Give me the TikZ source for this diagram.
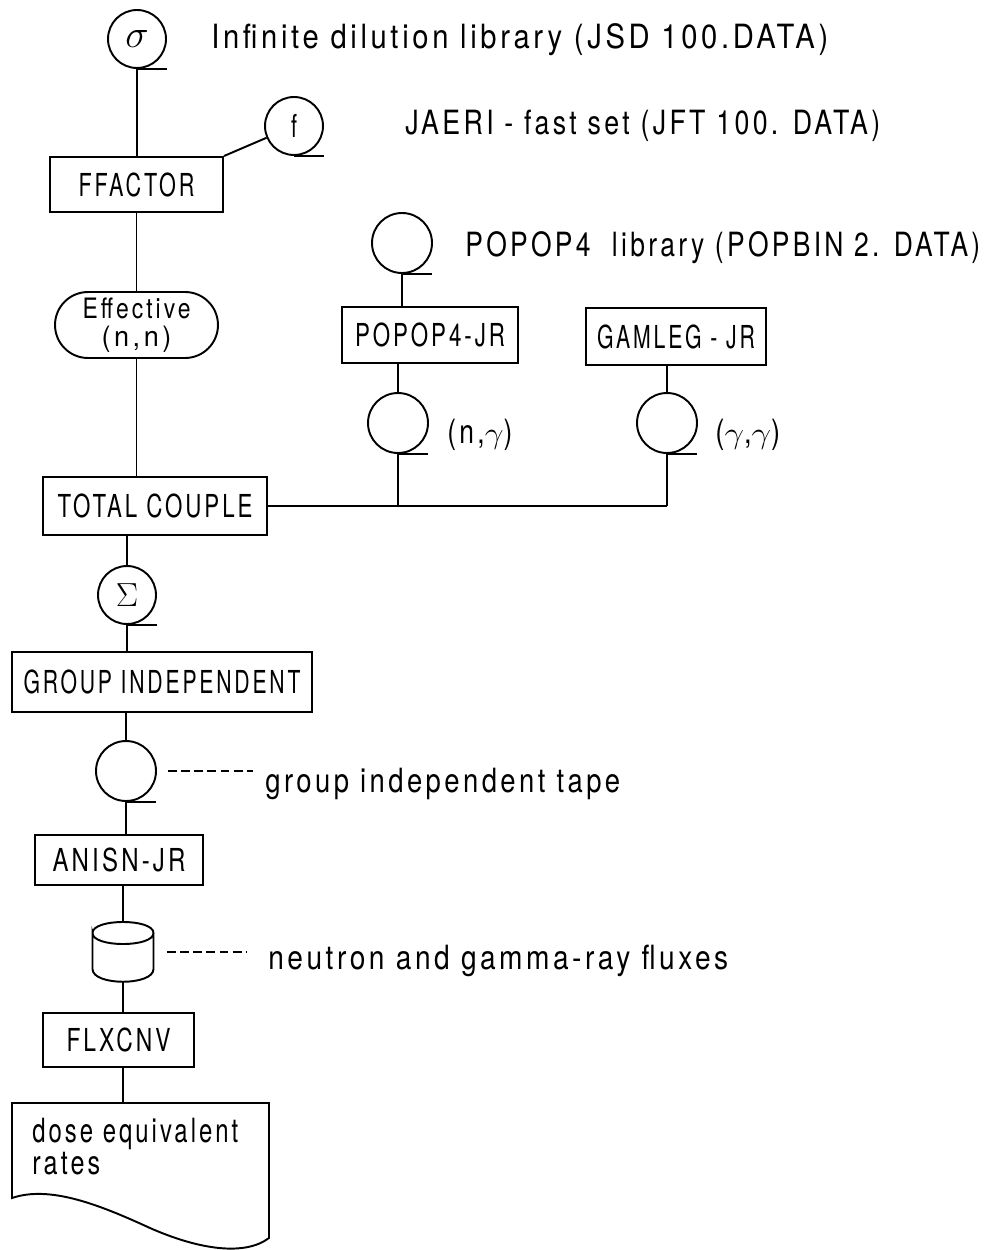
\documentclass[tikz,border=0pt]{standalone}
\usepackage{fontspec}
\setmainfont{TeX Gyre Heros}[FakeStretch=0.68, LetterSpace=9]
\newfontfamily\lblfont{TeX Gyre Heros}[FakeStretch=0.72, LetterSpace=9]
\newcommand{\fitw}[2]{\resizebox{#1}{\height}{#2}}
\usetikzlibrary{calc}
\begin{document}
\begin{tikzpicture}[x=0.02cm,y=-0.02cm,
  every node/.style={font=\fontsize{18}{20}\selectfont},
  box/.style={draw, line width=1.1pt, inner sep=0pt},
  disk/.style={draw, circle, line width=1.1pt, minimum size=1.16cm, inner sep=0pt},
  wire/.style={line width=1.1pt},
  dashwire/.style={line width=1.1pt, dash pattern=on 5pt off 2.5pt},
  lbl/.style={anchor=base west, inner sep=0pt, font=\lblfont\fontsize{19}{21}\selectfont}]
\useasboundingbox (0,0) rectangle (989,1250);

% top inputs
\node[disk] (sig) at (137,39) {\scalebox{1.3}{$\sigma$}};
\node[lbl] (siglab) at (211,49) {\fitw{12.34cm}{Infinite dilution library (JSD 100.DATA)}};
\node[disk] (fc) at (294,126) {f};
\node[lbl] (flab) at (405,134) {\fitw{9.5cm}{JAERI - fast set (JFT 100. DATA)}};

\node[box, minimum width=3.46cm, minimum height=1.1cm] (ff) at (136.5,184.5) {\fitw{2.32cm}{FFACTOR}};
\node[draw, line width=1.1pt, rounded corners=0.66cm, minimum width=3.26cm, minimum height=1.32cm,
      align=center, inner sep=0pt, font=\fontsize{16}{16}\selectfont] (eff) at (136.5,325)
      {\fitw{2.16cm}{Effective}\\\fitw{1.4cm}{(n,n)}};

\node[disk, minimum size=1.2cm] (pop) at (402,243) {};
\node[lbl] (poplab) at (465,256) {\fitw{10.3cm}{POPOP4\ \ library (POPBIN 2. DATA)}};
\node[box, minimum width=3.52cm, minimum height=1.12cm] (pj) at (430,335) {\fitw{3.0cm}{POPOP4-JR}};
\node[box, minimum width=3.6cm, minimum height=1.14cm] (gj) at (676,336.5) {\fitw{3.16cm}{GAMLEG - JR}};
\node[disk, minimum size=1.2cm] (ng) at (398,423) {};
\node[lbl] (nglab) at (447,443) {\fitw{1.3cm}{(n,$\gamma$)}};
\node[disk, minimum size=1.2cm] (gg) at (667,423) {};
\node[lbl] (gglab) at (715,443) {\fitw{1.3cm}{($\gamma$,$\gamma$)}};

\node[box, minimum width=4.48cm, minimum height=1.16cm] (tc) at (155,506) {\fitw{3.9cm}{TOTAL COUPLE}};
\node[disk] (sum) at (127,595) {\scalebox{1.1}{$\Sigma$}};
\node[box, minimum width=6cm, minimum height=1.2cm] (gi) at (162,682) {\fitw{5.54cm}{GROUP INDEPENDENT}};
\node[disk, minimum size=1.2cm] (gt) at (126,771) {};
\node[lbl] (gtlab) at (265,792) {\fitw{7.1cm}{group independent tape}};
\node[box, minimum width=3.36cm, minimum height=1.0cm] (an) at (119,860) {\fitw{2.66cm}{ANISN-JR}};

% flux drum
\node[minimum width=1.22cm, minimum height=1.2cm, inner sep=0pt] (cyl) at (123,952) {};
\draw[wire] (92.5,933) .. controls (92.5,918.3) and (153.5,918.3) .. (153.5,933)
  .. controls (153.5,947.7) and (92.5,947.7) .. (92.5,933) -- (92.5,969)
  .. controls (92.5,986) and (153.5,986) .. (153.5,969) -- (153.5,933);
\node[lbl] (cyllab) at (268,969) {\fitw{9.2cm}{neutron and gamma-ray fluxes}};

\node[box, minimum width=3.02cm, minimum height=1.08cm] (fl) at (118.5,1040) {\fitw{2.08cm}{FLXCNV}};

% document
\node[minimum width=5.14cm, minimum height=2.7cm, inner sep=0pt] (doc) at (140.5,1170.5) {};
\draw[wire] (12,1103) -- (269,1103) -- (269,1238)
  .. controls (245,1256) and (200,1250) .. (150,1228)
  .. controls (100,1205) and (50,1185) .. (12,1198) -- cycle;
\node[lbl] (doct1) at (32,1142) {\fitw{4.12cm}{dose equivalent}};
\node[lbl] (doct2) at (32,1174) {\fitw{1.36cm}{rates}};

% tape tails
\foreach \n in {sig,fc,pop,ng,gg,sum,gt}
  \draw[wire] (\n.south) -- ++(30,0);

% connectors
\draw[wire] (sig.south) -- (sig.south |- ff.north);
\draw[wire] (ff.north east) -- (fc);
\draw[wire] (eff.north |- ff.south) -- (eff.north);
\draw[wire] (eff.south) -- (eff.south |- tc.north);
\draw[wire] (pop.south) -- (pop.south |- pj.north);
\draw[wire] (ng.north |- pj.south) -- (ng.north);
\draw[wire] (gg.north |- gj.south) -- (gg.north);
\coordinate (j1) at (ng.south |- tc.east);
\coordinate (j2) at (gg.south |- tc.east);
\draw[wire] (tc.east) -- (j2);
\draw[wire] (ng.south) -- (j1);
\draw[wire] (gg.south) -- (j2);
\draw[wire] (sum.north |- tc.south) -- (sum.north);
\draw[wire] (sum.south) -- (sum.south |- gi.north);
\draw[wire] (gt.north |- gi.south) -- (gt.north);
\draw[wire] (gt.south) -- (gt.south |- an.north);
\draw[wire] (cyl.north |- an.south) -- (cyl.north);
\draw[wire] (cyl.south) -- (cyl.south |- fl.north);
\draw[wire] (cyl.south |- fl.south) -- (cyl.south |- doc.north);
\draw[dashwire] ([xshift=0.22cm]gt.east) -- ([xshift=-0.24cm]gt.east -| gtlab.west);
\draw[dashwire] ([xshift=0.26cm]cyl.east) -- ([xshift=-0.42cm]cyl.east -| cyllab.west);
\end{tikzpicture}
\end{document}
